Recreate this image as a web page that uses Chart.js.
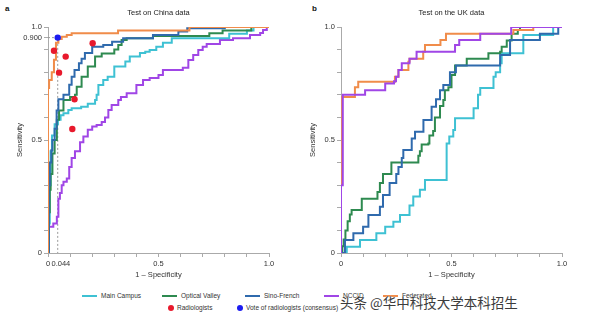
<!DOCTYPE html>
<html>
<head>
<meta charset="utf-8">
<script src="https://cdn.jsdelivr.net/npm/chart.js@4.4.1/dist/chart.umd.min.js"></script>
<style>
  body { margin: 0; background: #fff; width: 600px; height: 321px; position: relative; overflow: hidden;
         font-family: "Liberation Sans", Arial, sans-serif; }
  .panel { position: absolute; top: 0; width: 300px; height: 285px; }
  .tag { position: absolute; top: 4px; font-weight: bold; font-size: 8px; color: #111; }
  .lg { position: absolute; font-size: 6.5px; line-height: 8px; color: #333; white-space: nowrap; }
  .lg i { display: inline-block; width: 15px; height: 2px; vertical-align: middle; margin-right: 4px; }
  .lg b { display: inline-block; width: 6px; height: 6px; border-radius: 50%; vertical-align: middle; margin-right: 3px; }
  .wm { position: absolute; left: 340px; top: 294px; font-size: 13.5px; line-height: 16px; color: #3c3c3c;
        font-family: "Noto Sans CJK SC", sans-serif; white-space: nowrap;
        text-shadow: 0 0 1px #fff, 0 0 1px #fff; }
</style>
</head>
<body>
<div class="tag" style="left:5px">a</div>
<div class="tag" style="left:312px">b</div>
<div class="panel" style="left:0"><canvas id="chartA" width="300" height="285"></canvas></div>
<div class="panel" style="left:300px"><canvas id="chartB" width="300" height="285"></canvas></div>

<div class="lg" style="left:82px;top:292px"><i style="background:#3ec1d3"></i>Main Campus</div>
<div class="lg" style="left:162px;top:292px"><i style="background:#2e8a50"></i>Optical Valley</div>
<div class="lg" style="left:245px;top:292px"><i style="background:#2f6aad"></i>Sino-French</div>
<div class="lg" style="left:324px;top:292px"><i style="background:#a046e6"></i>NCCID</div>
<div class="lg" style="left:383px;top:292px"><i style="background:#f08c4a"></i>Federated</div>
<div class="lg" style="left:168px;top:304px"><b style="background:#e8192c"></b>Radiologists</div>
<div class="lg" style="left:237px;top:304px"><b style="background:#1c1cf0"></b>Vote of radiologists (consensus)</div>
<div class="wm">头条 @华中科技大学本科招生</div>

<script>
// panel a: test on China data, [1 - specificity, sensitivity]
const mainCampusA = [[0,0],[0.004,0.13],[0.008,0.30],[0.012,0.45],[0.018,0.52],[0.03,0.57],[0.045,0.59],[0.057,0.61],[0.07,0.618],[0.092,0.633],[0.107,0.64],[0.15,0.647],[0.18,0.66],[0.213,0.677],[0.22,0.70],[0.228,0.743],[0.25,0.765],[0.27,0.78],[0.30,0.825],[0.35,0.847],[0.37,0.87],[0.416,0.885],[0.44,0.89],[0.46,0.898],[0.49,0.913],[0.52,0.93],[0.56,0.95],[0.82,0.97],[0.9,0.985],[0.93,1.0],[1,1]];
const opticalValleyA = [[0,0],[0.003,0.18],[0.008,0.28],[0.012,0.35],[0.02,0.44],[0.03,0.50],[0.04,0.59],[0.05,0.63],[0.07,0.677],[0.1,0.69],[0.122,0.70],[0.13,0.736],[0.152,0.78],[0.18,0.825],[0.213,0.87],[0.243,0.883],[0.3,0.90],[0.318,0.92],[0.333,0.942],[0.356,0.95],[0.475,0.96],[0.73,0.972],[0.79,0.984],[0.92,1.0],[1,1]];
const sinoFrenchA = [[0,0],[0.004,0.30],[0.008,0.40],[0.015,0.455],[0.02,0.50],[0.03,0.55],[0.039,0.63],[0.047,0.68],[0.07,0.70],[0.096,0.745],[0.107,0.78],[0.12,0.81],[0.14,0.84],[0.152,0.86],[0.167,0.885],[0.2,0.913],[0.25,0.92],[0.29,0.935],[0.34,0.95],[0.475,0.965],[0.59,0.98],[0.63,0.995],[0.8,1.0],[1,1]];
const nccidA = [[0,0],[0.003,0.116],[0.024,0.13],[0.04,0.16],[0.047,0.24],[0.054,0.265],[0.062,0.30],[0.07,0.315],[0.085,0.33],[0.096,0.38],[0.107,0.42],[0.122,0.45],[0.145,0.49],[0.16,0.515],[0.18,0.545],[0.2,0.56],[0.22,0.566],[0.243,0.58],[0.258,0.60],[0.273,0.633],[0.288,0.655],[0.318,0.677],[0.33,0.69],[0.356,0.707],[0.40,0.743],[0.43,0.765],[0.46,0.774],[0.50,0.788],[0.52,0.81],[0.61,0.82],[0.635,0.854],[0.657,0.876],[0.68,0.898],[0.70,0.913],[0.718,0.925],[0.778,0.942],[0.837,0.95],[0.914,0.965],[0.96,0.973],[0.973,0.987],[0.99,1.0],[1,1]];
const federatedA = [[0,0],[0,0.73],[0.005,0.765],[0.017,0.80],[0.027,0.855],[0.036,0.93],[0.047,0.947],[0.062,0.957],[0.085,0.965],[0.107,0.972],[0.317,0.984],[0.64,1.0],[1,1]];
const radiologists = [[0.027,0.895],[0.08,0.869],[0.202,0.928],[0.05,0.798],[0.12,0.68],[0.11,0.549]];
const consensus = [[0.044,0.953]];

// panel b: test on the UK data
const mainCampusB = [[0,0],[0.026,0.028],[0.086,0.058],[0.16,0.087],[0.20,0.116],[0.237,0.138],[0.267,0.168],[0.31,0.21],[0.327,0.25],[0.357,0.28],[0.38,0.323],[0.478,0.485],[0.49,0.515],[0.508,0.544],[0.516,0.596],[0.60,0.64],[0.62,0.70],[0.63,0.73],[0.69,0.78],[0.70,0.80],[0.72,0.84],[0.727,0.884],[0.825,0.965],[0.96,1.0],[1,1]];
const opticalValleyB = [[0,0],[0.006,0.03],[0.012,0.06],[0.02,0.10],[0.03,0.14],[0.04,0.17],[0.048,0.19],[0.094,0.24],[0.165,0.27],[0.176,0.31],[0.19,0.35],[0.228,0.40],[0.35,0.43],[0.357,0.45],[0.365,0.48],[0.395,0.485],[0.40,0.52],[0.417,0.54],[0.425,0.60],[0.448,0.65],[0.463,0.677],[0.47,0.72],[0.486,0.733],[0.50,0.788],[0.516,0.83],[0.569,0.86],[0.667,0.884],[0.72,0.89],[0.727,0.913],[0.75,0.94],[0.772,0.97],[0.80,0.987],[0.81,1.0],[1,1]];
const sinoFrenchB = [[0,0],[0.018,0.058],[0.056,0.087],[0.10,0.116],[0.124,0.168],[0.176,0.205],[0.19,0.257],[0.22,0.31],[0.25,0.35],[0.26,0.38],[0.275,0.42],[0.282,0.456],[0.32,0.507],[0.335,0.537],[0.373,0.588],[0.41,0.647],[0.43,0.68],[0.448,0.72],[0.463,0.743],[0.493,0.80],[0.52,0.83],[0.72,0.876],[0.765,0.942],[0.90,0.97],[0.983,1.0],[1,1]];
const nccidB = [[0,0],[0,0.30],[0.008,0.70],[0.109,0.72],[0.20,0.75],[0.24,0.76],[0.249,0.78],[0.26,0.81],[0.275,0.84],[0.31,0.86],[0.342,0.89],[0.516,0.92],[0.535,0.942],[0.63,0.97],[0.77,1.0],[1,1]];
const federatedB = [[0,0],[0,0.36],[0.005,0.69],[0.063,0.733],[0.078,0.758],[0.244,0.78],[0.26,0.81],[0.305,0.846],[0.31,0.86],[0.372,0.89],[0.38,0.92],[0.45,0.942],[0.475,0.97],[0.78,0.987],[0.87,1.0],[1,1]];

// ticks
const xTicksA = [0,0.044,0.1,0.2,0.3,0.4,0.5,0.6,0.7,0.8,0.9,1];
const xLabelsA = ['0','   0.044','','','','','0.5','','','','','1.0'];
const xTicksB = [0,0.1,0.2,0.3,0.4,0.5,0.6,0.7,0.8,0.9,1];
const xLabelsB = ['0','','','','','0.5','','','','','1.0'];
const yTicksA = [0,0.1,0.2,0.3,0.4,0.5,0.6,0.7,0.8,0.9,0.953,1];
const yLabelsA = ['0','','','','','0.5','','','','','0.900','1.0'];
const yTicksB = [0,0.1,0.2,0.3,0.4,0.5,0.6,0.7,0.8,0.9,1];
const yLabelsB = ['0','','','','','0.5','','','','','1.0'];

const colors = {main:'#3ec1d3', optical:'#2e8a50', sino:'#2f6aad', nccid:'#a046e6', fed:'#f08c4a'};

Chart.defaults.font.family = '"Liberation Sans", Arial, sans-serif';
Chart.defaults.color = '#333';

const toPts = arr => arr.map(p => ({x: p[0], y: p[1]}));

function curve(data, color, order) {
  return {data: toPts(data), showLine: true, stepped: 'before', borderColor: color,
          borderWidth: 2, pointRadius: 0, order: order};
}

function makeChart(id, cfg) {
  new Chart(document.getElementById(id), {
    type: 'scatter',
    data: {datasets: cfg.datasets},
    options: {
      responsive: false,
      animation: false,
      events: [],
      layout: {padding: {left: 0, right: cfg.padRight, top: 0, bottom: 0}},
      scales: {
        x: {
          type: 'linear', min: 0, max: 1,
          afterBuildTicks: s => { s.ticks = cfg.xTicks.map(v => ({value: v})); },
          afterFit: s => { s.height = 32; },
          ticks: {autoSkip: false, maxRotation: 0, padding: 2, font: {size: 7.5},
                  callback: (v, i) => cfg.xLabels[i]},
          grid: {drawOnChartArea: false, tickLength: 4,
                 color: c => (c.tick && c.tick.value === 0.044) ? 'rgba(0,0,0,0)' : '#aaa'},
          border: {color: '#aaa'},
          title: {display: true, text: '1 – Specificity', font: {size: 7.5}, padding: {top: 5.5, bottom: 5.5}}
        },
        y: {
          min: 0, max: 1,
          afterBuildTicks: s => { s.ticks = cfg.yTicks.map(v => ({value: v})); },
          afterFit: s => { s.width = cfg.yWidth; },
          ticks: {autoSkip: false, padding: 2, font: {size: 7.5},
                  callback: (v, i) => cfg.yLabels[i]},
          grid: {drawOnChartArea: false, tickLength: 4, color: '#aaa'},
          border: {color: '#aaa'},
          title: {display: true, text: 'Sensitivity', font: {size: 7.5}, padding: {top: cfg.yTitlePad, bottom: 0}}
        }
      },
      plugins: {
        legend: {display: false},
        tooltip: {enabled: false},
        title: {display: true, text: cfg.title, fullSize: false, color: '#222',
                font: {size: 7.5, weight: 'normal'}, padding: {top: 8.5, bottom: 9.5}}
      }
    }
  });
}

makeChart('chartA', {
  title: 'Test on China data', padRight: 31, yWidth: 48, yTitlePad: 15.5,
  xTicks: xTicksA, xLabels: xLabelsA, yTicks: yTicksA, yLabels: yLabelsA,
  datasets: [
    {data: toPts(radiologists), pointRadius: 3.2, backgroundColor: '#e8192c', borderWidth: 0, order: 0},
    {data: toPts(consensus), pointRadius: 3.2, backgroundColor: '#1c1cf0', borderWidth: 0, order: 0},
    curve(federatedA, colors.fed, 1),
    curve(sinoFrenchA, colors.sino, 2),
    curve(opticalValleyA, colors.optical, 3),
    curve(mainCampusA, colors.main, 4),
    curve(nccidA, colors.nccid, 5),
    {data: [{x: 0, y: consensus[0][1]}, {x: consensus[0][0], y: consensus[0][1]}, {x: consensus[0][0], y: 0}],
     showLine: true, borderColor: '#999', borderWidth: 1, borderDash: [2, 2], pointRadius: 0, order: 6}
  ]
});

makeChart('chartB', {
  title: 'Test on the UK data', padRight: 38, yWidth: 41, yTitlePad: 8.5,
  xTicks: xTicksB, xLabels: xLabelsB, yTicks: yTicksB, yLabels: yLabelsB,
  datasets: [
    curve(nccidB, colors.nccid, 1),
    curve(federatedB, colors.fed, 2),
    curve(sinoFrenchB, colors.sino, 3),
    curve(opticalValleyB, colors.optical, 4),
    curve(mainCampusB, colors.main, 5)
  ]
});
</script>
</body>
</html>
